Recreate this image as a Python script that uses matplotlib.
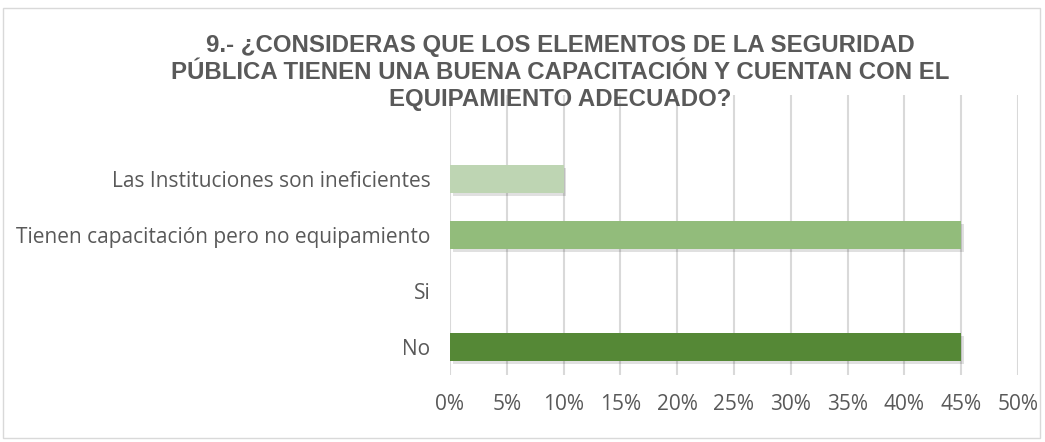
import matplotlib.pyplot as plt
import matplotlib.patheffects as pe
from matplotlib.patches import Rectangle
from matplotlib.ticker import FuncFormatter

# data (top to bottom as shown)
categories = ["", "Las Instituciones son ineficientes",
              "Tienen capacitación pero no equipamiento", "Si", "No"]
values = [None, 0.10, 0.45, 0.0, 0.45]
colors = ["#ffffff", "#bed5b3", "#92bc7b", "#ffffff", "#558836"]

title = ("9.- ¿CONSIDERAS QUE LOS ELEMENTOS DE LA SEGURIDAD\n"
         "PÚBLICA TIENEN UNA BUENA CAPACITACIÓN Y CUENTAN CON EL\n"
         "EQUIPAMIENTO ADECUADO?")

plt.rcParams['font.family'] = ['Open Sans', 'DejaVu Sans']

fig = plt.figure(figsize=(10.45, 4.42), dpi=100)
ax = fig.add_axes([450 / 1045, 1 - 375 / 442, 568 / 1045, 280 / 442])

# chart border
fig.patches.append(Rectangle((3 / 1045, 4 / 442), 1037 / 1045, 430 / 442,
                             transform=fig.transFigure, fill=False,
                             edgecolor="#d9d9d9", linewidth=1))

ypos = list(range(len(categories)))[::-1]
for y, v, c in zip(ypos, values, colors):
    if v is None or v == 0:
        continue
    ax.barh(y, v, height=0.5, color=c, zorder=3,
            path_effects=[pe.SimplePatchShadow(offset=(2, -2), shadow_rgbFace="#000000", alpha=0.12),
                          pe.Normal()])

ax.set_ylim(-0.5, len(categories) - 0.5)
ax.set_xlim(0, 0.5)
ax.set_xticks([i * 0.05 for i in range(11)])
ax.xaxis.set_major_formatter(FuncFormatter(lambda x, p: f"{x * 100:.0f}%"))
ax.set_yticks(ypos)
ax.set_yticklabels(categories)
ax.grid(axis='x', color="#d9d9d9", linewidth=1.5, zorder=0)
for s in ax.spines.values():
    s.set_visible(False)
ax.tick_params(axis='both', length=0, labelsize=15, labelcolor="#595959")
ax.tick_params(axis='x', pad=14)
ax.tick_params(axis='y', pad=14)

fig.text(0.536, 0.922, title, ha='center', va='top', fontsize=17.3,
         fontweight='bold', color="#595959", linespacing=1.22,
         family=['Liberation Sans', 'DejaVu Sans'])

fig.savefig("out.png", dpi=100)
